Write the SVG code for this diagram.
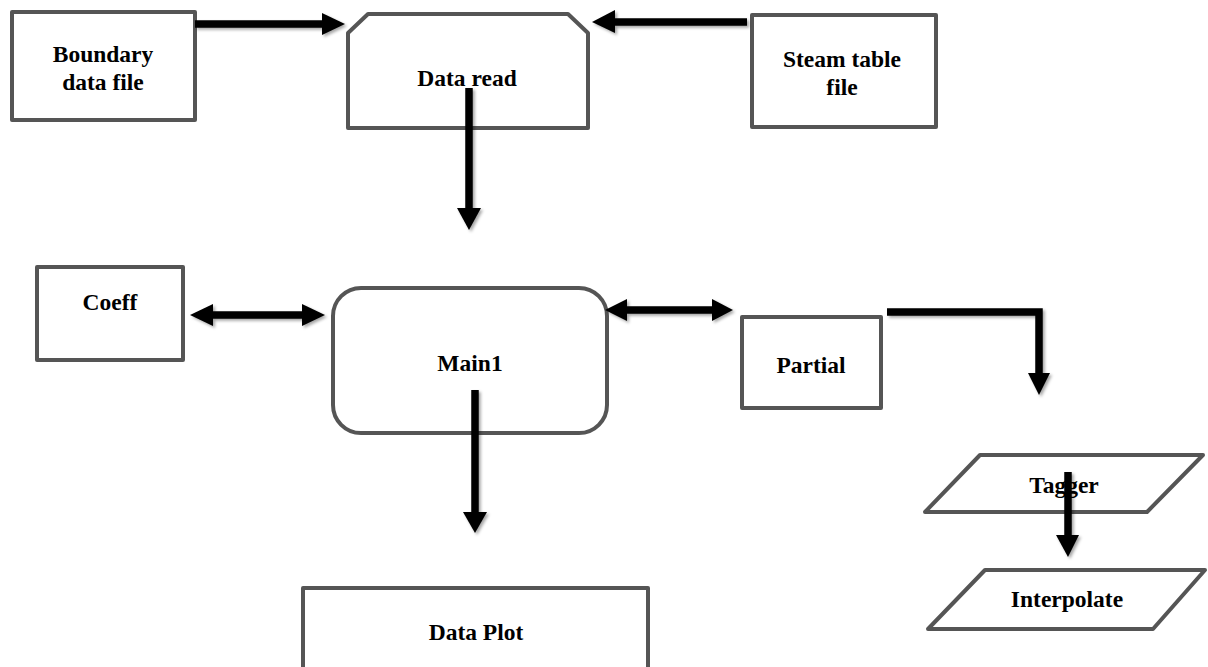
<svg xmlns="http://www.w3.org/2000/svg" width="1208" height="667" viewBox="0 0 1208 667">
<style>
.box{fill:#fff;stroke:#555;stroke-width:4;stroke-linejoin:round}
.lbl{font-family:"Liberation Serif","Times New Roman",serif;font-weight:bold;font-size:23.5px;fill:#000;text-anchor:middle}
.shaft{stroke:#000;stroke-width:7.5;fill:none}
.head{fill:#000}
</style>
<defs>
<filter id="sh" x="-20%" y="-20%" width="140%" height="140%">
<feDropShadow dx="2" dy="2" stdDeviation="1.5" flood-color="#000" flood-opacity="0.35"/>
</filter>
</defs>
<rect width="1208" height="667" fill="#fff"/>
<g id="boundary">
<rect class="box" x="12" y="12" width="183" height="108"/>
<text class="lbl" x="103" y="62">Boundary</text>
<text class="lbl" x="103" y="90">data file</text>
</g>
<g id="dataread">
<polygon class="box" points="368,14 568,14 588,33 588,128 348,128 348,33"/>
<text class="lbl" x="467" y="86">Data read</text>
</g>
<g id="steam">
<rect class="box" x="752" y="15" width="184" height="112"/>
<text class="lbl" x="842" y="67">Steam table</text>
<text class="lbl" x="842" y="95">file</text>
</g>
<g id="coeff">
<rect class="box" x="37" y="267" width="146" height="93"/>
<text class="lbl" x="110" y="310">Coeff</text>
</g>
<g id="main1">
<rect class="box" x="333" y="288" width="274" height="145" rx="28"/>
<text class="lbl" x="470" y="371">Main1</text>
</g>
<g id="partial">
<rect class="box" x="742" y="317" width="139" height="91"/>
<text class="lbl" x="811" y="373">Partial</text>
</g>
<g id="dataplot">
<rect class="box" x="303" y="588" width="345" height="100"/>
<text class="lbl" x="476" y="640">Data Plot</text>
</g>
<g id="tagger">
<polygon class="box" points="980,455 1203,455 1147,512 925,512"/>
<text class="lbl" x="1064" y="493">Tagger</text>
</g>
<g id="interpolate">
<polygon class="box" points="985,570 1205,570 1153,629 928,629"/>
<text class="lbl" x="1067" y="607">Interpolate</text>
</g>
<g id="connectors" filter="url(#sh)">
<line class="shaft" x1="195" y1="24" x2="324" y2="24"/>
<polygon class="head" points="322,13 345,24 322,35"/>
<line class="shaft" x1="747" y1="22" x2="613" y2="22"/>
<polygon class="head" points="615,10 592,22 615,33"/>
<line class="shaft" x1="469" y1="88" x2="469" y2="210"/>
<polygon class="head" points="457,208 481,208 469,230"/>
<line class="shaft" x1="211" y1="315" x2="304" y2="315"/>
<polygon class="head" points="213,304 190,315 213,326"/>
<polygon class="head" points="302,304 325,315 302,326"/>
<line class="shaft" x1="625" y1="310" x2="714" y2="310"/>
<polygon class="head" points="627,299 605,310 627,321"/>
<polygon class="head" points="712,299 733,310 712,321"/>
<polyline class="shaft" points="887,312 1039,312 1039,375"/>
<polygon class="head" points="1028,373 1050,373 1039,395"/>
<line class="shaft" x1="475" y1="390" x2="475" y2="514"/>
<polygon class="head" points="463,512 487,512 475,533"/>
<line class="shaft" x1="1068" y1="472" x2="1068" y2="537"/>
<polygon class="head" points="1056,535 1079,535 1068,557"/>
</g>
</svg>
